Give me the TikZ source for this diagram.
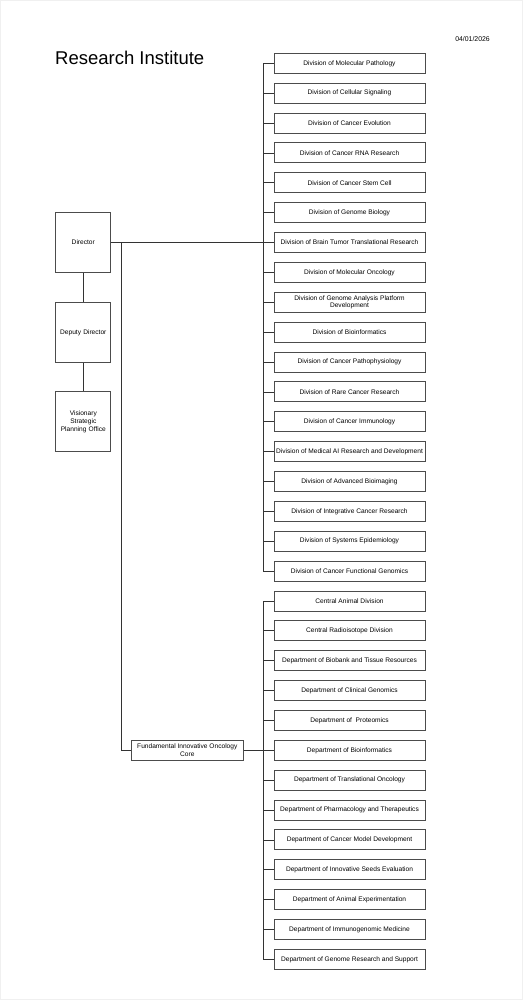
\documentclass[tikz,border=0pt]{standalone}
\usepackage{fontspec}
\setmainfont{Liberation Sans}
\usepackage{tikz}
\usetikzlibrary{ positioning, % For easy node-relative placements
               }

\tikzset{
  unit/.style={draw=black!70, line width=0.9pt, minimum width=151, minimum height=20,
               inner sep=1pt, align=center, font=\fontsize{6.6}{7.9}\selectfont},
  head/.style={unit, minimum width=55, minimum height=60, text width=52},
  link/.style={draw=black!80, line width=0.7pt},
}

\begin{document}
\begin{tikzpicture}[x=1pt, y=-1pt]
  \useasboundingbox (0,0) rectangle (523,1000);
  \draw[black!6, line width=0.8pt] (0.5,0.5) rectangle (522.5,999.5);

  \node[anchor=base west, font=\fontsize{18.5}{20}\selectfont, inner sep=0] (title) at (55,65) {Research Institute};
  \node[anchor=base east, font=\fontsize{6.9}{7}\selectfont, inner sep=0] (date) at (490,42) {04/01/2026};

  % left column
  \node[head] (director) at (83.3,242.5) {Director};
  \node[head] (deputy) at (83.3,332.3) {Deputy Director};
  \node[head] (visionary) at (83.3,421.8) {Visionary\\Strategic\\Planning Office};
  \node[unit, minimum width=112] (fund) at (187.3,750.3) {Fundamental Innovative Oncology\\Core};

  % divisions
  \node[unit] (div1) at (349.5,63.3) {Division of Molecular Pathology};
  \node[unit] (div2) at (349.5,93.2) {Division of Cellular Signaling};
  \node[unit] (div3) at (349.5,123.0) {Division of Cancer Evolution};
  \node[unit] (div4) at (349.5,152.9) {Division of Cancer RNA Research};
  \node[unit] (div5) at (349.5,182.8) {Division of Cancer Stem Cell};
  \node[unit] (div6) at (349.5,212.7) {Division of Genome Biology};
  \node[unit] (div7) at (349.5,242.5) {Division of Brain Tumor Translational Research};
  \node[unit] (div8) at (349.5,272.4) {Division of Molecular Oncology};
  \node[unit] (div9) at (349.5,302.3) {Division of Genome Analysis Platform\\Development};
  \node[unit] (div10) at (349.5,332.1) {Division of Bioinformatics};
  \node[unit] (div11) at (349.5,362.0) {Division of Cancer Pathophysiology};
  \node[unit] (div12) at (349.5,391.9) {Division of Rare Cancer Research};
  \node[unit] (div13) at (349.5,421.7) {Division of Cancer Immunology};
  \node[unit] (div14) at (349.5,451.6) {Division of Medical AI Research and Development};
  \node[unit] (div15) at (349.5,481.5) {Division of Advanced Bioimaging};
  \node[unit] (div16) at (349.5,511.4) {Division of Integrative Cancer Research};
  \node[unit] (div17) at (349.5,541.2) {Division of Systems Epidemiology};
  \node[unit] (div18) at (349.5,571.1) {Division of Cancer Functional Genomics};

  % departments
  \node[unit] (dep1) at (349.5,601.0) {Central Animal Division};
  \node[unit] (dep2) at (349.5,630.8) {Central Radioisotope Division};
  \node[unit] (dep3) at (349.5,660.7) {Department of Biobank and Tissue Resources};
  \node[unit] (dep4) at (349.5,690.6) {Department of Clinical Genomics};
  \node[unit] (dep5) at (349.5,720.4) {Department of \ Proteomics};
  \node[unit] (dep6) at (349.5,750.3) {Department of Bioinformatics};
  \node[unit] (dep7) at (349.5,780.2) {Department of Translational Oncology};
  \node[unit] (dep8) at (349.5,810.1) {Department of Pharmacology and Therapeutics};
  \node[unit] (dep9) at (349.5,839.9) {Department of Cancer Model Development};
  \node[unit] (dep10) at (349.5,869.8) {Department of Innovative Seeds Evaluation};
  \node[unit] (dep11) at (349.5,899.7) {Department of Animal Experimentation};
  \node[unit] (dep12) at (349.5,929.5) {Department of Immunogenomic Medicine};
  \node[unit] (dep13) at (349.5,959.4) {Department of Genome Research and Support};

  \coordinate (bus) at (263.3,0);
  \coordinate (fbus) at (121,0);

  \draw[link] (director) -- (deputy) -- (visionary);
  \draw[link] (director) -- (div7);
  \draw[link] (director.east -| fbus) |- (fund.west);
  \draw[link] (fund) -- (dep6);

  \draw[link] (div1.west -| bus) -- (div18.west -| bus);
  \foreach \i in {1,...,18} \draw[link] (div\i.west) -- (div\i.west -| bus);
  \draw[link] (dep1.west -| bus) -- (dep13.west -| bus);
  \foreach \i in {1,...,13} \draw[link] (dep\i.west) -- (dep\i.west -| bus);
\end{tikzpicture}
\end{document}
